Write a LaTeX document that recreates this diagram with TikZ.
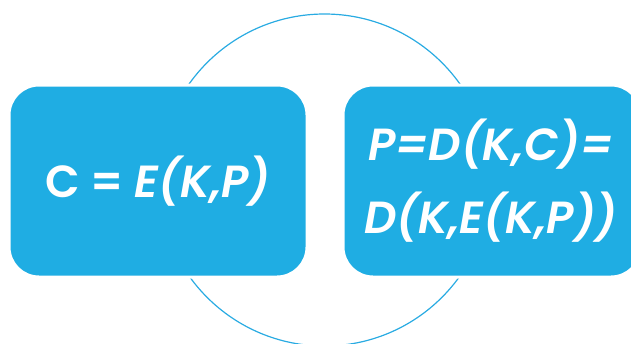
\documentclass[tikz,border=0pt]{standalone}
\usepackage{fontspec}
\setmainfont{Poppins}[BoldFont={Poppins SemiBold}, BoldItalicFont={Poppins SemiBold Italic}]
\definecolor{boxblue}{RGB}{31,173,227}
\definecolor{arcblue}{RGB}{41,171,226}
\begin{document}
\begin{tikzpicture}[x=1pt,y=-1pt,
  bluebox/.style={fill=boxblue, draw=white, line width=3pt, rounded corners=30pt},
  boxtext/.style={text=white, font=\fontsize{45}{73}\selectfont\bfseries, align=center}]
\useasboundingbox (0,0) rectangle (631,343);
\begin{scope}
\clip (0,0) rectangle (631,343);
\draw[arcblue, line width=1.2pt] (324.5,180) circle (166);
\filldraw[bluebox] (9,85) rectangle (307,277);
\filldraw[bluebox] (343,85) rectangle (641,277);
\end{scope}
\node[boxtext] (left) at (158,181) {C = \textit{E(K,P)}};
\node[boxtext] (right) at (491,181) {\itshape P=D(K,C)=\\\itshape D(K,E(K,P))};
\end{tikzpicture}
\end{document}
